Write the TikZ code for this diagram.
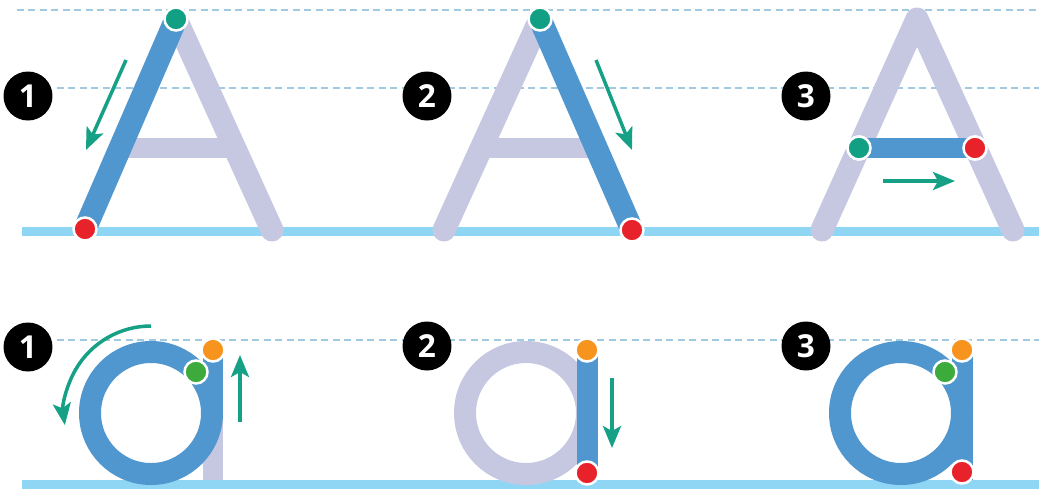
\documentclass[tikz,border=0pt]{standalone}
\usepackage{fontspec}
\setmainfont{Open Sans}
\usepackage{tikz}
\usetikzlibrary{
  arrows.meta,
  positioning
}
\definecolor{inkblue}{HTML}{5197CF}
\definecolor{ghostgrey}{HTML}{C6C8E2}
\definecolor{lineblue}{HTML}{8FD6F5}
\definecolor{guideblue}{HTML}{A0CAE0}
\definecolor{arrowteal}{HTML}{16A085}
\definecolor{dotteal}{HTML}{12A084}
\definecolor{dotred}{HTML}{E8222B}
\definecolor{dotorange}{HTML}{F7941D}
\definecolor{dotgreen}{HTML}{3DAA3C}

\begin{document}
\begin{tikzpicture}[
  x=0.02cm, y=-0.02cm,
  guide/.style={draw=guideblue, line width=0.04cm, dash pattern=on 0.14cm off 0.09cm},
  groundline/.style={draw=lineblue, line width=0.18cm},
  ghost/.style={draw=ghostgrey, line width=0.46cm, line cap=round, line join=round},
  ink/.style={draw=inkblue, line width=0.46cm, line cap=round, line join=round},
  dot/.style={circle, fill=#1, draw=white, line width=0.05cm, minimum size=0.46cm, inner sep=0pt},
  badge/.style={circle, fill=black, text=white, minimum size=0.98cm, inner sep=0pt, font=\fontsize{18}{18}\selectfont\bfseries},
  arrow/.style={-{Stealth[length=0.44cm, width=0.36cm, inset=0.1cm]}, draw=arrowteal, line width=0.07cm}
]
  \useasboundingbox[fill=white] (0,0) rectangle (1039,488);

  % Guide lines
  \draw[guide] (17,10) -- (1039,10);
  \draw[guide] (57,88) -- (1039,88);
  \draw[guide] (57,340) -- (1039,340);
  \draw[groundline] (22,231.5) -- (1039,231.5);
  \draw[groundline] (22,484) -- (1039,484);

  % Capital A, stroke 1
  \coordinate (A1top) at (176,19);
  \coordinate (A1left) at (85,229);
  \coordinate (A1right) at (272,230);
  \draw[ghost, line cap=butt, line width=0.4cm] (120,148) -- (235,148);
  \draw[ghost] (A1top) -- (A1right);
  \draw[ink] (A1top) -- (A1left);
  \node[dot=dotteal] (A1start) at (A1top) {};
  \node[dot=dotred] (A1end) at (A1left) {};
  \draw[arrow] (126,60) -- (86,150);
  \node[badge] (A1num) at (28,96) {1};

  % Capital A, stroke 2
  \coordinate (A2top) at (540,19);
  \coordinate (A2left) at (444,230);
  \coordinate (A2right) at (632,230);
  \draw[ghost, line cap=butt, line width=0.4cm] (481,148) -- (596,148);
  \draw[ghost] (A2top) -- (A2left);
  \draw[ink] (A2top) -- (A2right);
  \node[dot=dotteal] (A2start) at (A2top) {};
  \node[dot=dotred] (A2end) at (A2right) {};
  \draw[arrow] (596,60) -- (632,150);
  \node[badge] (A2num) at (427,96) {2};

  % Capital A, stroke 3
  \coordinate (A3top) at (917,19);
  \coordinate (A3left) at (822,230);
  \coordinate (A3right) at (1013,230);
  \draw[ghost] (A3left) -- (A3top) -- (A3right);
  \node[dot=dotteal] (A3start) at (859,148) {};
  \node[dot=dotred] (A3end) at (975,148) {};
  \draw[ink, line width=0.4cm] (A3start.center) -- (A3end.center);
  \node[dot=dotteal] at (A3start) {};
  \node[dot=dotred] at (A3end) {};
  \draw[arrow] (883,181) -- (955,181);
  \node[badge] (A3num) at (806,96) {3};

  % Small a, stroke 1
  \draw[ghost, line cap=butt, line width=0.42cm] (213,350) -- (213,480);
  \draw[ink, line cap=butt, line width=0.42cm] (213,350) -- (213,413);
  \draw[ink, line width=0.44cm] (151,413) circle[radius=61];
  \node[dot=dotorange] (a1top) at (213,350) {};
  \node[dot=dotgreen] (a1start) at (196,372) {};
  \draw[arrow] (151,326) arc[start angle=-90, end angle=-188, radius=87];
  \draw[arrow] (240,422) -- (240,355);
  \node[badge] (a1num) at (28,347) {1};

  % Small a, stroke 2
  \draw[ghost, line width=0.44cm] (526,413) circle[radius=61];
  \draw[ink, line cap=butt, line width=0.42cm] (587,350) -- (587,478);
  \node[dot=dotorange] (a2top) at (587,350) {};
  \node[dot=dotred] (a2end) at (587,473) {};
  \draw[arrow] (612,378) -- (612,448);
  \node[badge] (a2num) at (427,346) {2};

  % Small a, stroke 3
  \draw[ink, line width=0.44cm] (901,413) circle[radius=61];
  \draw[ink, line cap=butt, line width=0.42cm] (962,350) -- (962,480);
  \node[dot=dotorange] (a3top) at (962,350) {};
  \node[dot=dotgreen] (a3start) at (945,372) {};
  \node[dot=dotred] (a3end) at (962,472) {};
  \node[badge] (a3num) at (806,346) {3};
\end{tikzpicture}
\end{document}
